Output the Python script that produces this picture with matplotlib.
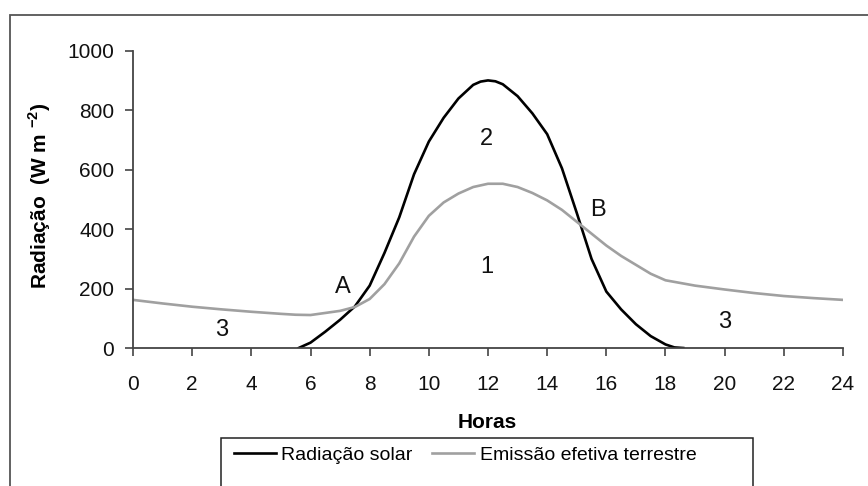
import numpy as np
import matplotlib
matplotlib.use('Agg')
import matplotlib.pyplot as plt
from matplotlib.patches import Rectangle

plt.rcParams['font.family'] = ['Liberation Sans', 'DejaVu Sans']
plt.rcParams['mathtext.fontset'] = 'custom'
plt.rcParams['mathtext.rm'] = 'Liberation Sans'
plt.rcParams['mathtext.bf'] = 'Liberation Sans:bold'

# solar radiation over the day (W m-2)
solar_hours = [5.6, 6, 6.5, 7, 7.5, 8, 8.5, 9, 9.5, 10, 10.5, 11, 11.5, 11.75, 12,
               12.25, 12.5, 13, 13.5, 14, 14.5, 15, 15.5, 16, 16.5, 17, 17.5, 18,
               18.3, 18.6]
solar_vals = [0, 18, 55, 95, 140, 210, 320, 440, 585, 695, 775, 840, 886, 897, 901,
              898, 888, 848, 790, 720, 605, 455, 300, 190, 130, 80, 40, 12,
              2, 0]

# effective terrestrial emission
emis_hours = [0, 1, 2, 3, 4, 5, 5.5, 6, 6.5, 7, 7.5, 8, 8.5, 9, 9.5, 10, 10.5,
              11, 11.5, 12, 12.5, 13, 13.5, 14, 14.5, 15, 15.5, 16, 16.5, 17,
              17.5, 18, 19, 20, 21, 22, 23, 24]
emis_vals = [162, 150, 139, 130, 122, 115, 112, 111, 118, 125, 138, 165, 215,
             285, 375, 445, 490, 520, 542, 553, 553, 542, 522, 497, 465, 425,
             385, 345, 310, 280, 250, 228, 210, 197, 185, 175, 168, 162]

# region/point annotations (hour, value, text)
notes = [(7.1, 206, 'A'), (15.7, 463, 'B'), (11.95, 274, '1'),
         (11.95, 703, '2'), (3.0, 61, '3'), (20.0, 88, '3')]

fig = plt.figure(figsize=(8.68, 4.86), dpi=100)
ax = fig.add_axes([133/868, 1 - 348/486, 710/868, 297/486])

ax.plot(solar_hours, solar_vals, color='black', lw=1.9, label='Radiação solar',
        solid_joinstyle='round')
ax.plot(emis_hours, emis_vals, color='#a0a0a0', lw=1.9, label='Emissão efetiva terrestre',
        solid_joinstyle='round')

for x, y, t in notes:
    ax.text(x, y, t, fontsize=17, ha='center', va='center', color='#111111')

ax.set_xlim(0, 24)
ax.set_ylim(0, 1000)
ax.set_xticks(np.arange(0, 25, 2))
ax.set_yticks(np.arange(0, 1001, 200))
for s in ['top', 'right']:
    ax.spines[s].set_visible(False)
for s in ['left', 'bottom']:
    ax.spines[s].set_color('#444444')
    ax.spines[s].set_linewidth(1.3)
ax.tick_params(direction='out', length=5.5, width=1.2, color='#444444',
               labelsize=15, labelcolor='#111111')
ax.tick_params(axis='x', pad=14)
ax.tick_params(axis='y', pad=8)

ax.set_xlabel('Horas', fontsize=15, fontweight='bold')
ax.xaxis.set_label_coords(0.4986, -0.2196)
ax.set_ylabel(r'Radiação  (W m $^{\mathbf{-2}}$)', fontsize=15, fontweight='bold')
ax.yaxis.set_label_coords(-0.1127, 0.513)

leg = fig.legend(loc='center left', bbox_to_anchor=(226/868, 1 - 455/486),
                 ncol=2, frameon=False, fontsize=14, handlelength=2.15,
                 handletextpad=0.3, columnspacing=1.0, borderaxespad=0)

# legend box and outer frame, both running off the lower/right edge
fig.patches.append(Rectangle((221/868, -0.05), (753 - 221)/868, 0.05 + 1 - 438/486,
                             transform=fig.transFigure, fill=False,
                             edgecolor='#222222', lw=1.1))
fig.patches.append(Rectangle((10/868, -0.05), 1.0, 0.05 + 1 - 15/486,
                             transform=fig.transFigure, fill=False,
                             edgecolor='#555555', lw=1.3))

fig.savefig('out.png', dpi=100)
